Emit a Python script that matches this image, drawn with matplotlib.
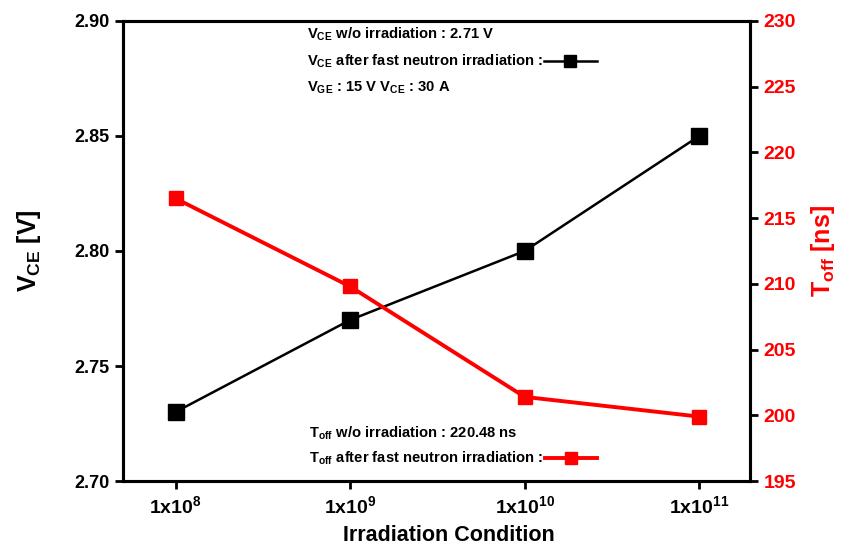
import matplotlib
matplotlib.use('Agg')
import matplotlib.pyplot as plt
from matplotlib.lines import Line2D
from matplotlib.offsetbox import (AnchoredOffsetbox, DrawingArea, HPacker,
                                  TextArea, VPacker)

# data
conditions = ['1x10$^{8}$', '1x10$^{9}$', '1x10$^{10}$', '1x10$^{11}$']
vce = [2.73, 2.77, 2.80, 2.85]
toff = [216.5, 209.8, 201.4, 199.9]
vce_ref = 2.71
toff_ref = 220.48

plt.rcParams['font.family'] = ['Liberation Sans', 'DejaVu Sans']
plt.rcParams['font.weight'] = 'bold'
plt.rcParams['axes.labelweight'] = 'bold'
plt.rcParams['mathtext.fontset'] = 'custom'
plt.rcParams['mathtext.rm'] = 'Liberation Sans:bold'
plt.rcParams['mathtext.bf'] = 'Liberation Sans:bold'
plt.rcParams['mathtext.it'] = 'Liberation Sans:bold'
plt.rcParams['mathtext.default'] = 'bf'

RED = '#FF0000'


def note_block(ax, lines, sample_row, color, lw, ms, anchor, sep):
    # text block with an inline line+marker sample after one of the rows
    rows = []
    for i, s in enumerate(lines):
        ta = TextArea(s, textprops=dict(fontsize=10.6, fontweight='bold'))
        if i == sample_row:
            da = DrawingArea(38, 10, 0, 0)
            da.add_artist(Line2D([0, 38], [5, 5], color=color, lw=lw))
            da.add_artist(Line2D([19], [5], color=color, marker='s', ms=ms, ls='none'))
            rows.append(HPacker(children=[ta, da], pad=0, sep=1, align='center'))
        else:
            rows.append(ta)
    box = VPacker(children=rows, pad=0, sep=sep, align='left')
    ab = AnchoredOffsetbox(loc='upper left', child=box, pad=0, borderpad=0,
                           frameon=False, bbox_to_anchor=anchor,
                           bbox_transform=ax.transAxes)
    ax.add_artist(ab)


fig = plt.figure(figsize=(8.61, 5.57), dpi=100)
ax = fig.add_axes([0.143, 0.1364, 0.728, 0.826])
ax2 = ax.twinx()

x = list(range(len(conditions)))
ax.plot(x, vce, '-s', color='black', lw=1.8, ms=11, zorder=3)
ax2.plot(x, toff, '-s', color=RED, lw=2.8, ms=10, zorder=3)

ax.set_xlim(-0.3, 3.29)
ax.set_ylim(2.70, 2.90)
ax2.set_ylim(195, 230)
ax.set_xticks(x)
ax.set_xticklabels(conditions, fontsize=14)
yt = [2.70, 2.75, 2.80, 2.85, 2.90]
ax.set_yticks(yt)
ax.set_yticklabels([f'{v:.2f}' for v in yt], fontsize=13)
ax2.set_yticks(range(195, 231, 5))
ax2.tick_params(axis='y', labelcolor=RED, labelsize=14)

for a in (ax, ax2):
    for s in a.spines.values():
        s.set_linewidth(2.2)
    a.tick_params(direction='out', length=6, width=2, pad=4)

ax.set_xlabel('Irradiation Condition', fontsize=15.5)
ax.xaxis.set_label_coords(0.52, -0.095)
ax.set_ylabel('V$_{CE}$ [V]', fontsize=18, labelpad=22)
ax2.set_ylabel('T$_{off}$ [ns]', fontsize=18, color=RED, labelpad=9)

note_block(ax,
           [f'V$_{{CE}}$ w/o irradiation : {vce_ref} V',
            'V$_{CE}$ after fast neutron irradiation :',
            'V$_{GE}$ : 15 V V$_{CE}$ : 30 A'],
           1, 'black', 1.8, 9, (0.293, 0.99), 7)
note_block(ax2,
           [f'T$_{{off}}$ w/o irradiation : {toff_ref} ns',
            'T$_{off}$ after fast neutron irradiation :'],
           1, RED, 2.8, 8, (0.297, 0.122), 5)

fig.savefig('out.png', dpi=100)
